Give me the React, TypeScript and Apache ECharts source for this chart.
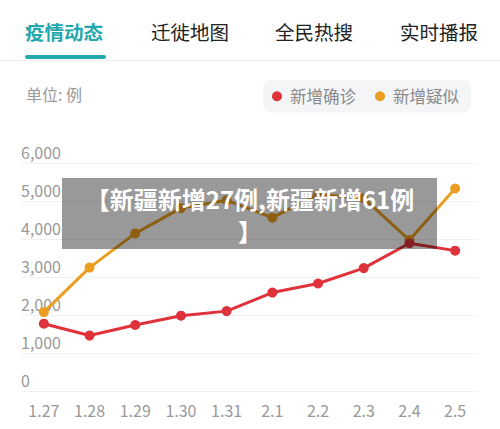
import React, { useEffect, useRef } from "react";
import * as echarts from "echarts";

const categories = ["1.27", "1.28", "1.29", "1.30", "1.31", "2.1", "2.2", "2.3", "2.4", "2.5"];
const confirmed = [1771, 1459, 1737, 1982, 2102, 2590, 2829, 3235, 3887, 3694];
const suspected = [2077, 3248, 4148, 4812, 5019, 4562, 5173, 5072, 3971, 5328];
const tabs = ["疫情动态", "迁徙地图", "全民热搜", "实时播报"];
const tabX = [25, 151, 275, 400];
const seriesNames = ["新增确诊", "新增疑似"];
const unitLabel = "单位: 例";
const captionLines = ["【新疆新增27例,新疆新增61例", "】"];

const FONT = "'Noto Sans CJK SC', 'Noto Sans', sans-serif";
const RED = "#e0323a";
const ORANGE = "#ec9e20";
const TEAL = "#22a7ad";

export default function App() {
  const ref = useRef<HTMLDivElement>(null);
  useEffect(() => {
    document.body.style.margin = "0";
    const chart = echarts.init(ref.current!, null, { renderer: "svg" });
    const graphics: any[] = [];
    tabs.forEach((t, i) => {
      graphics.push({
        type: "text",
        left: tabX[i],
        top: 22,
        style: {
          text: t,
          fill: i === 0 ? TEAL : "#222",
          font: `${i === 0 ? "bold " : ""}19.5px ${FONT}`,
        },
      });
    });
    graphics.push({
      type: "rect",
      shape: { x: 25, y: 55, width: 81, height: 4, r: 2 },
      style: { fill: TEAL },
    });
    graphics.push({
      type: "rect",
      shape: { x: 0, y: 60, width: 500, height: 1 },
      style: { fill: "#eeeeee" },
    });
    graphics.push({
      type: "text",
      left: 26,
      top: 86,
      style: { text: unitLabel, fill: "#999", font: `16px ${FONT}` },
    });
    graphics.push({
      type: "rect",
      z: 100,
      shape: { x: 62, y: 178, width: 375, height: 71 },
      style: { fill: "rgba(0,0,0,0.4)" },
    });
    graphics.push({
      type: "text",
      z: 101,
      x: 250,
      y: 198,
      style: {
        text: captionLines[0],
        fill: "#fff",
        font: `bold 24px ${FONT}`,
        align: "center",
        verticalAlign: "middle",
      },
    });
    graphics.push({
      type: "text",
      z: 101,
      x: 250,
      y: 230,
      style: {
        text: captionLines[1],
        fill: "#fff",
        font: `bold 24px ${FONT}`,
        align: "center",
        verticalAlign: "middle",
      },
    });

    chart.setOption({
      animation: false,
      textStyle: { fontFamily: FONT },
      graphic: graphics,
      legend: {
        left: 263,
        top: 80,
        padding: [8, 12, 8, 9],
        backgroundColor: "#f4f5f7",
        borderRadius: 8,
        icon: "circle",
        itemWidth: 16,
        itemHeight: 10,
        itemGap: 19,
        textStyle: { color: "#888", fontSize: 16.5, fontFamily: FONT },
        data: seriesNames,
      },
      grid: { left: 21, right: 22, top: 163, bottom: 38 },
      xAxis: {
        type: "category",
        data: categories,
        boundaryGap: true,
        axisLine: { show: false },
        axisTick: { show: false },
        axisLabel: { color: "#999", fontSize: 16, margin: 11, fontFamily: FONT },
      },
      yAxis: {
        type: "value",
        min: 0,
        max: 6000,
        interval: 1000,
        axisLine: { show: false },
        axisTick: { show: false },
        splitLine: { lineStyle: { color: "#f0f0f0", width: 1 } },
        axisLabel: {
          inside: true,
          margin: 0,
          align: "left",
          verticalAlign: "bottom",
          padding: [0, 0, 3, 0],
          color: "#999",
          fontSize: 16,
          fontFamily: FONT,
          formatter: (v: number) => v.toLocaleString("en-US"),
        },
      },
      series: [
        {
          name: seriesNames[0],
          type: "line",
          data: confirmed,
          z: 3,
          color: RED,
          symbol: "circle",
          symbolSize: 10,
          lineStyle: { width: 3, color: RED },
          itemStyle: { color: RED },
        },
        {
          name: seriesNames[1],
          type: "line",
          data: suspected,
          z: 2,
          color: ORANGE,
          symbol: "circle",
          symbolSize: 10,
          lineStyle: { width: 3, color: ORANGE },
          itemStyle: { color: ORANGE },
        },
      ],
    });
    return () => chart.dispose();
  }, []);
  return <div ref={ref} style={{ width: 500, height: 429 }} />;
}
